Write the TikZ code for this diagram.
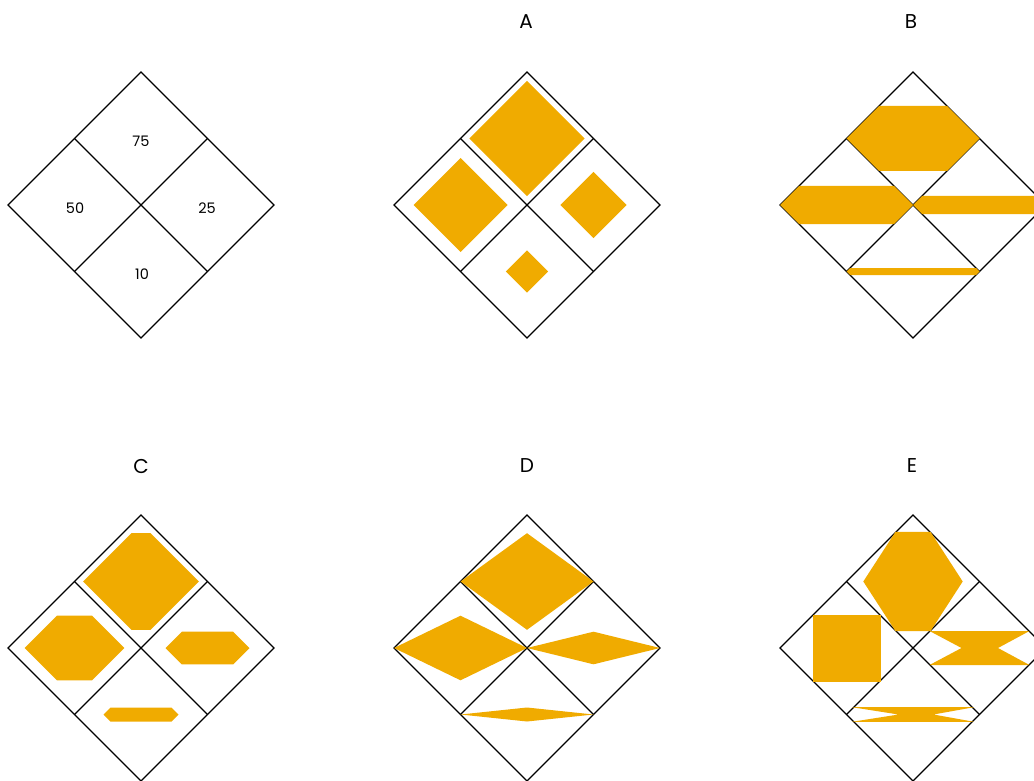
\documentclass[tikz,border=0pt]{standalone}
\usepackage{fontspec}
\setmainfont{Poppins}
\definecolor{gold}{RGB}{240,171,0}
\tikzset{
  grid line/.style={draw=black, line width=1.2pt, line join=miter},
  fillshape/.style={fill=gold, draw=none},
  panel label/.style={font=\fontsize{20}{20}\selectfont, inner sep=0pt, anchor=center},
  value label/.style={font=\fontsize{14.5}{14.5}\selectfont, inner sep=0pt, anchor=center}
}
\newcommand\diagrid{%
  \draw[grid line] (-133,0) -- (0,-133) -- (133,0) -- (0,133) -- cycle;
  \draw[grid line] (-66.5,-66.5) -- (66.5,66.5);
  \draw[grid line] (66.5,-66.5) -- (-66.5,66.5);}
% diamond of half-diagonal #3 centred at (#1,#2)
\newcommand\rdiam[3]{\fill[gold] (#1-#3,#2) -- (#1,#2-#3) -- (#1+#3,#2) -- (#1,#2+#3) -- cycle;}
% hexagon: centre (#1,#2), half-width #3, half-height #4
\newcommand\rhex[4]{\fill[gold] (#1-#3,#2) -- (#1-#3+#4,#2-#4) -- (#1+#3-#4,#2-#4) -- (#1+#3,#2) -- (#1+#3-#4,#2+#4) -- (#1-#3+#4,#2+#4) -- cycle;}
% rhombus: centre, half-width, half-height
\newcommand\rrhomb[4]{\fill[gold] (#1-#3,#2) -- (#1,#2-#4) -- (#1+#3,#2) -- (#1,#2+#4) -- cycle;}
\begin{document}
\begin{tikzpicture}[x=1pt, y=-1pt]
\useasboundingbox (0,0) rectangle (1034,781);
\clip (0,0) rectangle (1034,781);

% ---------- key panel ----------
\begin{scope}[shift={(141,205)}]
  \diagrid
  \node[value label] (v75) at (0,-64) {75};
  \node[value label] (v50) at (-66,3) {50};
  \node[value label] (v25) at (66,3) {25};
  \node[value label] (v10) at (1,69) {10};
\end{scope}

% ---------- A ----------
\node[panel label] (lA) at (526,22) {A};
\begin{scope}[shift={(527,205)}]
  \diagrid
  \rdiam{0}{-66.5}{57.6}
  \rdiam{-66.5}{0}{47}
  \rdiam{66.5}{0}{33.2}
  \rdiam{0}{66.5}{21.1}
\end{scope}

% ---------- B ----------
\node[panel label] (lB) at (911,22) {B};
\begin{scope}[shift={(913,205)}]
  \diagrid
  \rhex{0}{-66.5}{66.5}{32.5}
  \rhex{-66.5}{0}{66.5}{19.2}
  \rhex{66.5}{0}{66.5}{9.2}
  \rhex{0}{66.5}{66.5}{3.5}
\end{scope}

% ---------- C ----------
\node[panel label] (lC) at (141,466) {C};
\begin{scope}[shift={(141,648)}]
  \diagrid
  \rhex{0}{-66.5}{57.8}{48.3}
  \rhex{-66.5}{0}{49.8}{32.3}
  \rhex{66.5}{0}{42}{16.3}
  \rhex{0}{66.5}{37.5}{7}
\end{scope}

% ---------- D ----------
\node[panel label] (lD) at (527,466) {D};
\begin{scope}[shift={(527,648)}]
  \diagrid
  \rrhomb{0}{-66.5}{66.5}{48.3}
  \rrhomb{-66.5}{0}{66.5}{32.3}
  \rrhomb{66.5}{0}{66.5}{16.3}
  \rrhomb{0}{66.5}{66.5}{7}
\end{scope}

% ---------- E ----------
\node[panel label] (lE) at (912,466) {E};
\begin{scope}[shift={(913,648)}]
  \diagrid
  \fill[gold] (-49.7,-66.5) -- (-17.5,-116.2) -- (17.5,-116.2) -- (49.7,-66.5) -- (17.5,-16.8) -- (-17.5,-16.8) -- cycle;
  \fill[gold] (-100.5,-33.2) rectangle (-32.3,34);
  \fill[gold] (16.5,-17) -- (116.5,-17) -- (85,0) -- (116.5,17) -- (16.5,17) -- (48.5,0) -- cycle;
  \fill[gold] (-61,59.2) -- (61,59.2) -- (20.5,66.5) -- (61,73.8) -- (-61,73.8) -- (-14.5,66.5) -- cycle;
\end{scope}
\end{tikzpicture}
\end{document}
